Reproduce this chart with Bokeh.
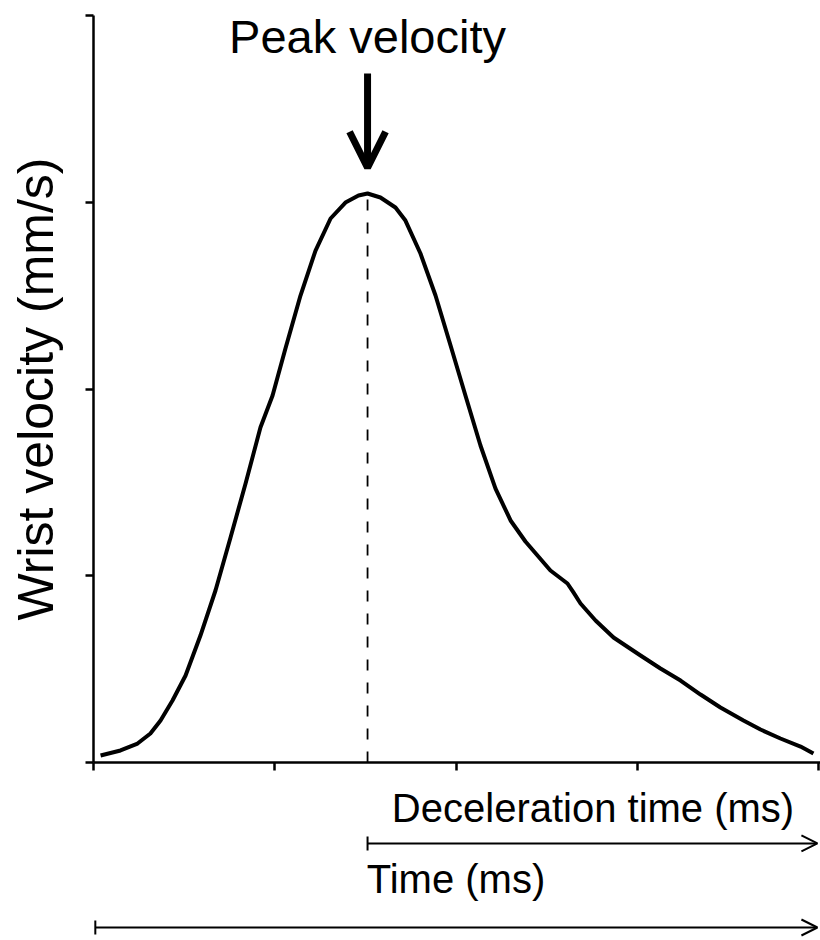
from bokeh.plotting import figure
from bokeh.layouts import column
from bokeh.models import Range1d, Label, Arrow, OpenHead, TeeHead, FixedTicker
from bokeh.embed import file_html
from bokeh.resources import INLINE

# Curve (time in arbitrary ms units, velocity in arbitrary mm/s units)
time_ms = [3.9, 14.9, 24.3, 31.4, 37.0, 43.6, 50.8, 59.0, 67.3, 75.6, 83.9, 92.1,
           98.8, 105.9, 114.2, 122.5, 130.8, 139.0, 146.2, 151.2, 158.3, 166.6,
           172.1, 180.4, 188.7, 197.0, 205.2, 213.5, 221.8, 230.1, 238.3, 252.1,
           261.5, 264.8, 268.7, 277.0, 286.9, 301.8, 312.8, 323.9, 334.9, 345.9,
           358.6, 368.0, 379.0, 390.1, 397.2]
velocity = [7.5, 12.9, 20.3, 31.1, 45.0, 66.4, 93.2, 136.0, 184.2, 241.0, 298.8, 358.8,
            393.0, 443.4, 500.1, 548.3, 582.6, 599.7, 607.2, 609.4, 605.1, 594.4,
            580.4, 545.1, 500.1, 446.6, 393.0, 339.5, 293.4, 259.2, 236.7, 205.6,
            191.7, 182.1, 170.3, 152.1, 133.9, 114.6, 100.7, 87.8, 72.8, 58.9,
            45.0, 35.3, 25.7, 17.1, 9.6]
peak_time = 151.2
peak_velocity = 609.4
end_time = 400
x_ticks = [0, 100, 200, 300, 400]
y_ticks = [0, 200, 400, 600, 800]

title_text = "Peak velocity"
y_label = "Wrist velocity (mm/s)"
decel_label = "Deceleration time (ms)"
time_label = "Time (ms)"

FONT = "Liberation Sans"
W = 820
x_range = Range1d(0, 401.1)

p = figure(width=W, height=782, output_backend="svg", toolbar_location=None,
           x_range=x_range, y_range=Range1d(0, 800),
           min_border_left=93, min_border_right=0, min_border_top=15,
           min_border_bottom=20)
p.outline_line_color = None
p.grid.visible = False

for ax, ticks in ((p.xaxis, x_ticks), (p.yaxis, y_ticks)):
    ax.ticker = FixedTicker(ticks=ticks)
    ax.major_label_overrides = {t: "" for t in ticks}
    ax.major_label_text_font_size = "0px"
    ax.major_label_standoff = 0
    ax.minor_tick_line_color = None
    ax.axis_line_color = "black"
    ax.axis_line_width = 2.5
    ax.major_tick_line_color = "black"
    ax.major_tick_line_width = 2.5
    ax.major_tick_out = 8
    ax.major_tick_in = 0

p.yaxis.axis_label = y_label
p.yaxis.axis_label_text_font = FONT
p.yaxis.axis_label_text_font_size = "50px"
p.yaxis.axis_label_text_font_style = "normal"
p.yaxis.axis_label_text_color = "black"
p.yaxis.axis_label_standoff = 22

# velocity curve
p.line(time_ms, velocity, line_width=4, line_color="black", line_join="round")
# dashed line at peak
p.line([peak_time, peak_time], [0, peak_velocity], line_width=1.8,
       line_color="black", line_dash="11 12")

# Peak velocity label + arrow
p.add_layout(Label(x=peak_time, y=778, text=title_text, text_align="center",
                   text_baseline="alphabetic", text_font=FONT,
                   text_font_size="47px", text_color="black"))
p.add_layout(Arrow(x_start=peak_time, y_start=738, x_end=peak_time, y_end=637,
                   line_width=7, line_color="black",
                   end=OpenHead(size=36, line_width=7, line_color="black")))

# Bottom strip with the time spans (same x scale)
b = figure(width=W, height=156, output_backend="svg", toolbar_location=None,
           x_range=x_range, y_range=Range1d(-188.5, -21.4),
           min_border_left=93, min_border_right=0, min_border_top=0,
           min_border_bottom=0)
b.outline_line_color = None
b.grid.visible = False
b.axis.visible = False

decel_y = -86.7
time_y = -176.7
b.add_layout(Label(x=(peak_time + end_time) / 2, y=-49.2, text=decel_label,
                   text_align="center", text_baseline="alphabetic",
                   text_font=FONT, text_font_size="40px", text_color="black"))
b.add_layout(Arrow(x_start=peak_time, y_start=decel_y, x_end=399.4, y_end=decel_y,
                   line_width=2, line_color="black",
                   start=TeeHead(size=14, line_width=2, line_color="black"),
                   end=OpenHead(size=16, line_width=2, line_color="black")))
b.add_layout(Label(x=end_time / 2, y=-124.3, text=time_label,
                   text_align="center", text_baseline="alphabetic",
                   text_font=FONT, text_font_size="40px", text_color="black"))
b.add_layout(Arrow(x_start=1, y_start=time_y, x_end=399.4, y_end=time_y,
                   line_width=2, line_color="black",
                   start=TeeHead(size=14, line_width=2, line_color="black"),
                   end=OpenHead(size=16, line_width=2, line_color="black")))

layout = column(p, b, spacing=0)
open("out.html", "w").write(file_html(layout, INLINE))
